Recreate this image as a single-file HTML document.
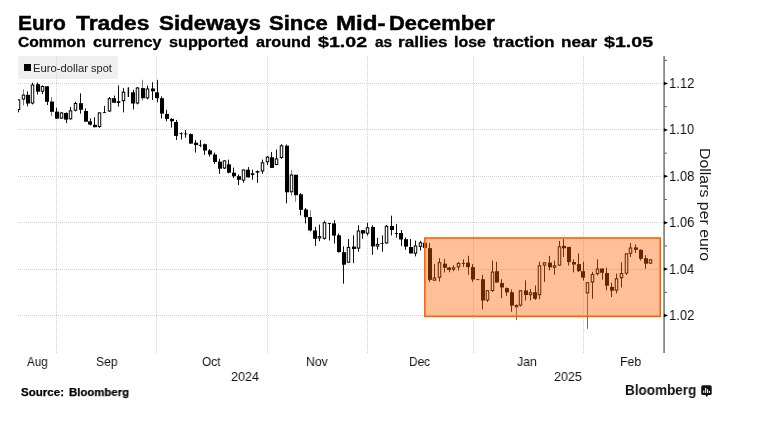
<!DOCTYPE html>
<html><head><meta charset="utf-8"><title>Euro Trades Sideways Since Mid-December</title>
<style>
html,body{margin:0;padding:0;background:#fff;}
body{width:758px;height:421px;position:relative;overflow:hidden;font-family:"Liberation Sans",sans-serif;color:#000;}
.t{position:absolute;white-space:nowrap;line-height:1;transform-origin:0 0;display:block;will-change:transform;}
#legend{left:18px;top:56px;width:99.5px;height:22.5px;background:#efefef;border-radius:2px;position:absolute;}
#legsq{position:absolute;left:24px;top:64px;width:7.4px;height:7.2px;background:#000;}
svg{position:absolute;left:0;top:0;}
h1,h2,div{margin:0;padding:0;font-size:inherit;font-weight:inherit;}
.g line{stroke:#d2d2d2;stroke-width:1;stroke-dasharray:1 1;}
.c line{stroke:#111;stroke-width:1;}
.c .f{fill:#000;}
.c .h{fill:#fff;stroke:#000;stroke-width:1;}
</style></head><body>
<div id="legend"></div>
<svg width="758" height="421" viewBox="0 0 758 421">
<defs><clipPath id="cp"><rect x="18" y="50" width="646" height="305"/></clipPath></defs>
<g class="g"><line x1="18" y1="83.5" x2="662" y2="83.5"/><line x1="18" y1="129.5" x2="662" y2="129.5"/><line x1="18" y1="176.5" x2="662" y2="176.5"/><line x1="18" y1="222.5" x2="662" y2="222.5"/><line x1="18" y1="269.5" x2="662" y2="269.5"/><line x1="18" y1="315.5" x2="662" y2="315.5"/><line x1="56.5" y1="56" x2="56.5" y2="354"/><line x1="156.5" y1="56" x2="156.5" y2="354"/><line x1="267.5" y1="56" x2="267.5" y2="354"/><line x1="367.5" y1="56" x2="367.5" y2="354"/><line x1="473.5" y1="56" x2="473.5" y2="354"/><line x1="583.5" y1="56" x2="583.5" y2="354"/></g>
<g class="c" clip-path="url(#cp)">
<line x1="18.5" y1="99.4" x2="18.5" y2="112.4"/>
<rect class="h" x="17.25" y="99.9" width="2.5" height="9.6"/>
<line x1="23.5" y1="89.3" x2="23.5" y2="105.5" style="stroke:#777"/>
<rect class="h" x="22.25" y="95.1" width="2.5" height="4.0"/>
<line x1="27.5" y1="91.3" x2="27.5" y2="106.3"/>
<rect class="f" x="26" y="94.9" width="4.0" height="8.6"/>
<line x1="32.5" y1="82.7" x2="32.5" y2="104.4"/>
<rect class="h" x="31.25" y="85.0" width="2.5" height="18.0"/>
<line x1="37.5" y1="82.5" x2="37.5" y2="94.6"/>
<rect class="f" x="36" y="84.2" width="4.0" height="7.5"/>
<line x1="42.5" y1="85.4" x2="42.5" y2="94.0"/>
<rect class="h" x="41.25" y="86.5" width="2.5" height="4.7"/>
<line x1="47.5" y1="86.3" x2="47.5" y2="105.0"/>
<rect class="f" x="45" y="86.3" width="4.0" height="15.5"/>
<line x1="51.5" y1="97.0" x2="51.5" y2="116.0" style="stroke:#777"/>
<rect class="f" x="50" y="101.5" width="4.0" height="10.3"/>
<line x1="56.5" y1="107.7" x2="56.5" y2="119.0"/>
<rect class="f" x="55" y="111.6" width="4.0" height="7.0"/>
<line x1="61.5" y1="112.4" x2="61.5" y2="118.6"/>
<rect class="h" x="60.25" y="112.9" width="2.5" height="5.2"/>
<line x1="66.5" y1="112.4" x2="66.5" y2="123.1"/>
<rect class="f" x="64" y="113.0" width="4.0" height="6.6"/>
<line x1="70.5" y1="107.0" x2="70.5" y2="119.6"/>
<rect class="h" x="69.25" y="110.8" width="2.5" height="8.0"/>
<line x1="75.5" y1="101.7" x2="75.5" y2="111.5"/>
<rect class="h" x="74.25" y="103.5" width="2.5" height="6.7"/>
<line x1="80.5" y1="93.4" x2="80.5" y2="113.6"/>
<rect class="f" x="79" y="103.2" width="4.0" height="6.6"/>
<line x1="85.5" y1="108.3" x2="85.5" y2="121.7"/>
<rect class="f" x="84" y="111.0" width="4.0" height="10.7"/>
<line x1="90.5" y1="118.4" x2="90.5" y2="125.5"/>
<rect class="f" x="88" y="121.3" width="4.0" height="3.3"/>
<line x1="94.5" y1="117.2" x2="94.5" y2="127.3"/>
<rect class="f" x="93" y="124.8" width="4.0" height="2.4"/>
<line x1="99.5" y1="112.4" x2="99.5" y2="127.9"/>
<rect class="h" x="98.25" y="112.9" width="2.5" height="13.6"/>
<line x1="104.5" y1="105.9" x2="104.5" y2="112.7"/>
<rect class="f" x="102.85" y="112.2" width="3.2" height="0.9"/>
<line x1="109.5" y1="97.0" x2="109.5" y2="111.8"/>
<rect class="h" x="108.25" y="98.7" width="2.5" height="12.3"/>
<line x1="114.5" y1="95.6" x2="114.5" y2="103.0"/>
<rect class="f" x="112" y="98.2" width="4.0" height="4.5"/>
<line x1="118.5" y1="85.4" x2="118.5" y2="106.5"/>
<rect class="h" x="117.25" y="101.7" width="2.5" height="0.8"/>
<line x1="123.5" y1="88.1" x2="123.5" y2="112.4"/>
<rect class="h" x="122.25" y="92.2" width="2.5" height="8.5"/>
<line x1="128.5" y1="87.5" x2="128.5" y2="97.0"/>
<rect class="f" x="127.68" y="87.5" width="1.4" height="9.5"/>
<line x1="133.5" y1="89.9" x2="133.5" y2="109.5"/>
<rect class="f" x="131" y="92.3" width="4.0" height="11.2"/>
<line x1="137.5" y1="87.0" x2="137.5" y2="104.4"/>
<rect class="h" x="136.25" y="88.0" width="2.5" height="15.0"/>
<line x1="142.5" y1="79.8" x2="142.5" y2="100.6" style="stroke:#777"/>
<rect class="f" x="141" y="88.1" width="4.0" height="10.1"/>
<line x1="147.5" y1="85.7" x2="147.5" y2="99.4"/>
<rect class="h" x="146.25" y="89.0" width="2.5" height="8.9"/>
<line x1="152.5" y1="82.2" x2="152.5" y2="100.0"/>
<rect class="f" x="151" y="88.5" width="4.0" height="2.8"/>
<line x1="157.5" y1="79.8" x2="157.5" y2="102.3"/>
<rect class="f" x="155" y="92.3" width="4.0" height="5.9"/>
<line x1="161.5" y1="96.4" x2="161.5" y2="118.4"/>
<rect class="f" x="160" y="98.2" width="4.0" height="15.4"/>
<line x1="166.5" y1="109.8" x2="166.5" y2="121.3"/>
<rect class="f" x="165" y="113.9" width="4.0" height="5.0"/>
<line x1="171.5" y1="118.1" x2="171.5" y2="127.6"/>
<rect class="f" x="170" y="118.9" width="4.0" height="2.4"/>
<line x1="176.5" y1="119.9" x2="176.5" y2="140.0"/>
<rect class="f" x="174" y="122.0" width="4.0" height="13.9"/>
<line x1="181.5" y1="132.3" x2="181.5" y2="139.5"/>
<rect class="f" x="179.42" y="133.3" width="3.2" height="0.9"/>
<line x1="185.5" y1="130.0" x2="185.5" y2="137.7"/>
<rect class="f" x="184.21" y="133.5" width="3.2" height="0.9"/>
<line x1="190.5" y1="133.5" x2="190.5" y2="143.6"/>
<rect class="f" x="189" y="134.1" width="4.0" height="9.5"/>
<line x1="195.5" y1="140.0" x2="195.5" y2="152.5"/>
<rect class="f" x="194" y="142.7" width="4.0" height="2.4"/>
<line x1="200.5" y1="140.0" x2="200.5" y2="147.2"/>
<rect class="f" x="198.57" y="144.8" width="3.2" height="1.0"/>
<line x1="204.5" y1="143.6" x2="204.5" y2="154.9"/>
<rect class="f" x="203" y="144.2" width="4.0" height="6.3"/>
<line x1="209.5" y1="149.0" x2="209.5" y2="156.6"/>
<rect class="f" x="208" y="150.4" width="4.0" height="4.1"/>
<line x1="214.5" y1="152.5" x2="214.5" y2="163.8"/>
<rect class="f" x="213" y="154.5" width="4.0" height="7.5"/>
<line x1="219.5" y1="158.8" x2="219.5" y2="173.8"/>
<rect class="f" x="218" y="161.6" width="4.0" height="7.1"/>
<line x1="224.5" y1="160.4" x2="224.5" y2="169.0"/>
<rect class="h" x="223.25" y="160.9" width="2.5" height="7.1"/>
<line x1="228.5" y1="159.6" x2="228.5" y2="173.3"/>
<rect class="f" x="227" y="164.3" width="4.0" height="8.4"/>
<line x1="233.5" y1="167.6" x2="233.5" y2="178.0"/>
<rect class="f" x="232" y="172.7" width="4.0" height="3.5"/>
<line x1="238.5" y1="174.4" x2="238.5" y2="185.1"/>
<rect class="f" x="237" y="176.2" width="4.0" height="3.6"/>
<line x1="243.5" y1="169.5" x2="243.5" y2="182.8"/>
<rect class="h" x="242.25" y="170.0" width="2.5" height="10.1"/>
<line x1="248.5" y1="167.1" x2="248.5" y2="177.4"/>
<rect class="f" x="246" y="169.7" width="4.0" height="7.7"/>
<line x1="252.5" y1="169.7" x2="252.5" y2="179.8"/>
<rect class="h" x="251.25" y="173.8" width="2.5" height="0.7"/>
<line x1="257.5" y1="170.3" x2="257.5" y2="182.8"/>
<rect class="h" x="256.25" y="171.6" width="2.5" height="0.6"/>
<line x1="262.5" y1="159.6" x2="262.5" y2="173.8"/>
<rect class="h" x="261.25" y="162.8" width="2.5" height="8.2"/>
<line x1="267.5" y1="156.0" x2="267.5" y2="165.0"/>
<rect class="h" x="266.25" y="157.1" width="2.5" height="4.7"/>
<line x1="271.5" y1="151.9" x2="271.5" y2="167.9"/>
<rect class="f" x="270" y="157.2" width="4.0" height="10.7"/>
<line x1="276.5" y1="149.5" x2="276.5" y2="165.2"/>
<rect class="h" x="275.25" y="158.9" width="2.5" height="5.6"/>
<line x1="281.5" y1="144.2" x2="281.5" y2="158.8"/>
<rect class="h" x="280.25" y="145.8" width="2.5" height="11.7"/>
<line x1="286.5" y1="144.5" x2="286.5" y2="203.3"/>
<rect class="f" x="285" y="145.7" width="4.0" height="46.6"/>
<line x1="291.5" y1="170.0" x2="291.5" y2="195.5" style="stroke:#777"/>
<rect class="h" x="290.25" y="175.0" width="2.5" height="16.8"/>
<line x1="295.5" y1="174.8" x2="295.5" y2="201.8" style="stroke:#888"/>
<rect class="f" x="294" y="174.8" width="4.0" height="20.4"/>
<line x1="300.5" y1="193.2" x2="300.5" y2="215.4"/>
<rect class="f" x="299" y="194.3" width="4.0" height="15.5"/>
<line x1="305.5" y1="208.0" x2="305.5" y2="223.4"/>
<rect class="f" x="304" y="209.5" width="4.0" height="7.7"/>
<line x1="310.5" y1="210.3" x2="310.5" y2="232.3" style="stroke:#888"/>
<rect class="f" x="308" y="217.1" width="4.0" height="13.4"/>
<line x1="315.5" y1="227.0" x2="315.5" y2="246.0"/>
<rect class="f" x="313" y="230.5" width="4.0" height="8.3"/>
<line x1="319.5" y1="224.6" x2="319.5" y2="241.2"/>
<rect class="h" x="318.25" y="236.6" width="2.5" height="1.4"/>
<line x1="324.5" y1="220.7" x2="324.5" y2="239.7"/>
<rect class="h" x="323.25" y="222.7" width="2.5" height="15.6"/>
<line x1="329.5" y1="223.0" x2="329.5" y2="240.4"/>
<rect class="f" x="327.79" y="223.0" width="3.2" height="0.9"/>
<line x1="334.5" y1="220.2" x2="334.5" y2="243.6"/>
<rect class="f" x="332" y="223.4" width="4.0" height="12.2"/>
<line x1="338.5" y1="233.5" x2="338.5" y2="252.5"/>
<rect class="f" x="337" y="235.3" width="4.0" height="16.8"/>
<line x1="343.5" y1="246.3" x2="343.5" y2="283.7"/>
<rect class="f" x="342" y="252.2" width="4.0" height="12.5"/>
<line x1="348.5" y1="239.0" x2="348.5" y2="262.7"/>
<rect class="h" x="347.25" y="247.4" width="2.5" height="14.8"/>
<line x1="353.5" y1="235.3" x2="353.5" y2="263.2"/>
<rect class="f" x="352" y="246.6" width="4.0" height="2.4"/>
<line x1="358.5" y1="225.4" x2="358.5" y2="251.8"/>
<rect class="h" x="357.25" y="231.0" width="2.5" height="17.1"/>
<line x1="362.5" y1="230.0" x2="362.5" y2="238.8"/>
<rect class="f" x="361" y="230.2" width="4.0" height="3.3"/>
<line x1="367.5" y1="222.8" x2="367.5" y2="235.6"/>
<rect class="h" x="366.25" y="227.8" width="2.5" height="5.4"/>
<line x1="372.5" y1="225.2" x2="372.5" y2="254.8"/>
<rect class="f" x="371" y="227.0" width="4.0" height="19.4"/>
<line x1="377.5" y1="237.7" x2="377.5" y2="249.7"/>
<rect class="h" x="376.25" y="244.4" width="2.5" height="1.7"/>
<line x1="382.5" y1="235.3" x2="382.5" y2="251.8"/>
<rect class="f" x="380.44" y="243.1" width="3.2" height="0.9"/>
<line x1="386.5" y1="224.9" x2="386.5" y2="243.6"/>
<rect class="h" x="385.25" y="226.3" width="2.5" height="16.6"/>
<line x1="391.5" y1="215.7" x2="391.5" y2="235.5"/>
<rect class="f" x="390" y="226.0" width="4.0" height="4.0"/>
<line x1="396.5" y1="224.0" x2="396.5" y2="237.7"/>
<rect class="f" x="394.79" y="233.0" width="3.2" height="0.9"/>
<line x1="401.5" y1="230.0" x2="401.5" y2="246.1"/>
<rect class="f" x="399" y="233.0" width="4.0" height="6.5"/>
<line x1="405.5" y1="237.5" x2="405.5" y2="249.8"/>
<rect class="f" x="404" y="239.2" width="4.0" height="7.4"/>
<line x1="410.5" y1="239.1" x2="410.5" y2="253.4"/>
<rect class="f" x="409" y="247.0" width="4.0" height="6.4"/>
<line x1="415.5" y1="240.6" x2="415.5" y2="256.4"/>
<rect class="h" x="414.25" y="246.0" width="2.5" height="7.2"/>
<line x1="420.5" y1="240.8" x2="420.5" y2="250.5"/>
<rect class="h" x="419.25" y="242.8" width="2.5" height="3.5"/>
<line x1="425.5" y1="242.8" x2="425.5" y2="247.9"/>
<rect class="f" x="423" y="242.8" width="4.0" height="5.1"/>
<line x1="429.5" y1="243.1" x2="429.5" y2="281.9"/>
<rect class="f" x="428" y="248.1" width="4.0" height="31.8"/>
<line x1="434.5" y1="264.1" x2="434.5" y2="280.7"/>
<rect class="h" x="433.25" y="278.0" width="2.5" height="2.2"/>
<line x1="439.5" y1="258.2" x2="439.5" y2="281.6"/>
<rect class="h" x="438.25" y="262.6" width="2.5" height="14.7"/>
<line x1="444.5" y1="258.8" x2="444.5" y2="272.4"/>
<rect class="f" x="443" y="263.7" width="4.0" height="4.0"/>
<line x1="449.5" y1="266.8" x2="449.5" y2="272.4"/>
<rect class="f" x="447" y="267.5" width="4.0" height="2.4"/>
<line x1="453.5" y1="265.3" x2="453.5" y2="271.2"/>
<rect class="h" x="452.25" y="267.8" width="2.5" height="1.4"/>
<line x1="458.5" y1="262.1" x2="458.5" y2="270.4"/>
<rect class="h" x="457.25" y="263.4" width="2.5" height="3.4"/>
<line x1="463.5" y1="259.3" x2="463.5" y2="267.1"/>
<rect class="f" x="461.80" y="263.0" width="3.2" height="0.9"/>
<line x1="468.5" y1="255.8" x2="468.5" y2="274.8"/>
<rect class="f" x="466" y="262.6" width="4.0" height="4.5"/>
<line x1="472.5" y1="264.1" x2="472.5" y2="281.9"/>
<rect class="f" x="471" y="267.1" width="4.0" height="12.4"/>
<line x1="477.5" y1="279.2" x2="477.5" y2="279.9"/>
<rect class="f" x="476.16" y="279.2" width="3.2" height="0.9"/>
<line x1="482.5" y1="274.8" x2="482.5" y2="309.4"/>
<rect class="f" x="481" y="279.2" width="4.0" height="21.3"/>
<line x1="487.5" y1="290.2" x2="487.5" y2="302.0"/>
<rect class="h" x="486.25" y="290.7" width="2.5" height="9.3"/>
<line x1="492.5" y1="260.5" x2="492.5" y2="291.9"/>
<rect class="h" x="491.25" y="272.1" width="2.5" height="18.4"/>
<line x1="496.5" y1="261.7" x2="496.5" y2="282.5"/>
<rect class="f" x="495" y="271.2" width="4.0" height="11.3"/>
<line x1="501.5" y1="279.2" x2="501.5" y2="298.2"/>
<rect class="f" x="500" y="283.1" width="4.0" height="4.4"/>
<line x1="506.5" y1="287.5" x2="506.5" y2="295.8"/>
<rect class="f" x="505" y="288.1" width="4.0" height="4.3"/>
<line x1="511.5" y1="289.5" x2="511.5" y2="311.8"/>
<rect class="f" x="510" y="292.2" width="4.0" height="13.4"/>
<line x1="516.5" y1="304.1" x2="516.5" y2="320.1" style="stroke:#777"/>
<rect class="h" x="515.25" y="305.4" width="2.5" height="1.4"/>
<line x1="520.5" y1="290.2" x2="520.5" y2="306.5"/>
<rect class="h" x="519.25" y="290.7" width="2.5" height="14.4"/>
<line x1="525.5" y1="280.3" x2="525.5" y2="300.5"/>
<rect class="f" x="524" y="290.4" width="4.0" height="4.6"/>
<line x1="530.5" y1="289.0" x2="530.5" y2="300.5"/>
<rect class="h" x="529.25" y="292.7" width="2.5" height="2.0"/>
<line x1="535.5" y1="285.5" x2="535.5" y2="299.9"/>
<rect class="f" x="533" y="292.2" width="4.0" height="6.6"/>
<line x1="539.5" y1="261.7" x2="539.5" y2="299.3"/>
<rect class="h" x="538.25" y="265.8" width="2.5" height="28.9"/>
<line x1="544.5" y1="262.3" x2="544.5" y2="281.9"/>
<rect class="h" x="543.25" y="262.8" width="2.5" height="2.3"/>
<line x1="549.5" y1="255.8" x2="549.5" y2="270.4"/>
<rect class="f" x="548" y="262.6" width="4.0" height="4.7"/>
<line x1="554.5" y1="260.5" x2="554.5" y2="274.8"/>
<rect class="h" x="553.25" y="265.8" width="2.5" height="1.4"/>
<line x1="559.5" y1="240.9" x2="559.5" y2="265.6"/>
<rect class="h" x="558.25" y="246.8" width="2.5" height="18.3"/>
<line x1="563.5" y1="239.2" x2="563.5" y2="257.0"/>
<rect class="f" x="562" y="245.9" width="4.0" height="2.4"/>
<line x1="568.5" y1="246.9" x2="568.5" y2="265.6"/>
<rect class="f" x="567" y="246.9" width="4.0" height="15.2"/>
<line x1="573.5" y1="259.3" x2="573.5" y2="272.4"/>
<rect class="f" x="572" y="262.1" width="4.0" height="2.4"/>
<line x1="578.5" y1="253.4" x2="578.5" y2="271.8"/>
<rect class="f" x="577" y="264.1" width="4.0" height="7.1"/>
<line x1="583.5" y1="261.7" x2="583.5" y2="280.5"/>
<rect class="f" x="581" y="271.2" width="4.0" height="6.4"/>
<line x1="587.5" y1="282.2" x2="587.5" y2="328.8" style="stroke:#6e6e6e"/>
<rect class="h" x="586.25" y="282.7" width="2.5" height="10.2"/>
<line x1="592.5" y1="271.8" x2="592.5" y2="298.8"/>
<rect class="h" x="591.25" y="274.5" width="2.5" height="7.5"/>
<line x1="597.5" y1="259.3" x2="597.5" y2="275.4"/>
<rect class="h" x="596.25" y="269.0" width="2.5" height="4.7"/>
<line x1="602.5" y1="268.5" x2="602.5" y2="279.6"/>
<rect class="f" x="600" y="268.5" width="4.0" height="4.3"/>
<line x1="606.5" y1="267.7" x2="606.5" y2="290.4"/>
<rect class="f" x="605" y="273.0" width="4.0" height="12.7"/>
<line x1="611.5" y1="282.7" x2="611.5" y2="297.0"/>
<rect class="f" x="610" y="286.9" width="4.0" height="3.8"/>
<line x1="616.5" y1="273.6" x2="616.5" y2="293.4"/>
<rect class="h" x="615.25" y="278.8" width="2.5" height="11.4"/>
<line x1="621.5" y1="262.3" x2="621.5" y2="287.5"/>
<rect class="h" x="620.25" y="273.5" width="2.5" height="4.2"/>
<line x1="626.5" y1="253.4" x2="626.5" y2="274.8"/>
<rect class="h" x="625.25" y="253.9" width="2.5" height="19.2"/>
<line x1="630.5" y1="243.1" x2="630.5" y2="257.0"/>
<rect class="h" x="629.25" y="248.0" width="2.5" height="5.3"/>
<line x1="635.5" y1="244.5" x2="635.5" y2="252.8"/>
<rect class="f" x="634" y="247.4" width="4.0" height="2.4"/>
<line x1="640.5" y1="249.3" x2="640.5" y2="260.5"/>
<rect class="f" x="639" y="249.8" width="4.0" height="9.0"/>
<line x1="645.5" y1="255.2" x2="645.5" y2="268.8"/>
<rect class="f" x="644" y="258.2" width="4.0" height="5.5"/>
<line x1="650.5" y1="259.3" x2="650.5" y2="263.7"/>
<rect class="h" x="649.25" y="259.8" width="2.5" height="3.4"/>
</g>
<rect x="424.85" y="238" width="235.4" height="78.4" fill="rgba(255,98,0,0.40)" stroke="#ff6200" stroke-width="1.6"/>
<rect x="663.2" y="56" width="1.8" height="297" fill="#888"/>
<rect x="664.6" y="59.9" width="2.3" height="0.8" fill="#333"/><path d="M663.9 81.8 L668.1 83.5 L663.9 85.2 Z" fill="#000"/><rect x="664.6" y="106.3" width="2.3" height="0.8" fill="#333"/><path d="M663.9 128.2 L668.1 129.9 L663.9 131.6 Z" fill="#000"/><rect x="664.6" y="152.7" width="2.3" height="0.8" fill="#333"/><path d="M663.9 174.6 L668.1 176.3 L663.9 178.0 Z" fill="#000"/><rect x="664.6" y="199.1" width="2.3" height="0.8" fill="#333"/><path d="M663.9 221.0 L668.1 222.7 L663.9 224.4 Z" fill="#000"/><rect x="664.6" y="245.5" width="2.3" height="0.8" fill="#333"/><path d="M663.9 267.4 L668.1 269.1 L663.9 270.8 Z" fill="#000"/><rect x="664.6" y="291.9" width="2.3" height="0.8" fill="#333"/><path d="M663.9 313.8 L668.1 315.5 L663.9 317.2 Z" fill="#000"/>
<g transform="translate(701.2,385.3)"><rect x="0" y="0" width="10.5" height="9.8" rx="1.7" fill="#111"/><path d="M4.0 9.5 L7.0 9.5 L5.5 11.6 Z" fill="#111"/><rect x="2.0" y="5.2" width="1.1" height="2.4" fill="#fff"/><rect x="3.9" y="2.6" width="1.1" height="5" fill="#fff"/><rect x="5.8" y="3.9" width="1.1" height="3.7" fill="#fff"/><rect x="7.7" y="5.6" width="1.1" height="2" fill="#fff"/></g>
</svg>
<div id="legsq"></div>
<h1><span class="t" style="left:18.15px;top:12.60px;font-size:20px;font-weight:bold;color:#000;-webkit-text-stroke:0.45px #000;transform:scaleX(1.0500)">Euro</span> <span class="t" style="left:76.10px;top:12.60px;font-size:20px;font-weight:bold;color:#000;-webkit-text-stroke:0.45px #000;transform:scaleX(1.1375)">Trades</span> <span class="t" style="left:158.82px;top:12.60px;font-size:20px;font-weight:bold;color:#000;-webkit-text-stroke:0.45px #000;transform:scaleX(1.1169)">Sideways</span> <span class="t" style="left:268.82px;top:12.60px;font-size:20px;font-weight:bold;color:#000;-webkit-text-stroke:0.45px #000;transform:scaleX(1.1033)">Since</span> <span class="t" style="left:336.49px;top:12.60px;font-size:20px;font-weight:bold;color:#000;-webkit-text-stroke:0.45px #000;transform:scaleX(1.2051)">Mid-</span><span class="t" style="left:388.71px;top:12.60px;font-size:20px;font-weight:bold;color:#000;-webkit-text-stroke:0.45px #000;transform:scaleX(1.0924)">December</span></h1>
<h2><span class="t" style="left:18.34px;top:35.25px;font-size:14px;font-weight:bold;color:#000;-webkit-text-stroke:0.3px #000;transform:scaleX(1.1160)">Common</span> <span class="t" style="left:92.67px;top:35.25px;font-size:14px;font-weight:bold;color:#000;-webkit-text-stroke:0.3px #000;transform:scaleX(1.1574)">currency</span> <span class="t" style="left:168.61px;top:35.25px;font-size:14px;font-weight:bold;color:#000;-webkit-text-stroke:0.3px #000;transform:scaleX(1.1600)">supported</span> <span class="t" style="left:255.71px;top:35.25px;font-size:14px;font-weight:bold;color:#000;-webkit-text-stroke:0.3px #000;transform:scaleX(1.1570)">around</span> <span class="t" style="left:318.30px;top:35.25px;font-size:14px;font-weight:bold;color:#000;-webkit-text-stroke:0.3px #000;transform:scaleX(1.4000)">$1.02</span> <span class="t" style="left:374.62px;top:35.25px;font-size:14px;font-weight:bold;color:#000;-webkit-text-stroke:0.3px #000;transform:scaleX(1.1000)">as</span> <span class="t" style="left:398.08px;top:35.25px;font-size:14px;font-weight:bold;color:#000;-webkit-text-stroke:0.3px #000;transform:scaleX(1.2229)">rallies</span> <span class="t" style="left:453.74px;top:35.25px;font-size:14px;font-weight:bold;color:#000;-webkit-text-stroke:0.3px #000;transform:scaleX(1.1407)">lose</span> <span class="t" style="left:492.80px;top:35.25px;font-size:14px;font-weight:bold;color:#000;-webkit-text-stroke:0.3px #000;transform:scaleX(1.1961)">traction</span> <span class="t" style="left:560.98px;top:35.25px;font-size:14px;font-weight:bold;color:#000;-webkit-text-stroke:0.3px #000;transform:scaleX(1.2209)">near</span> <span class="t" style="left:604.00px;top:35.25px;font-size:14px;font-weight:bold;color:#000;-webkit-text-stroke:0.3px #000;transform:scaleX(1.4043)">$1.05</span></h2>
<div><span class="t" style="left:32.76px;top:63.60px;font-size:10px;font-weight:normal;color:#222;transform:scaleX(1.1229)">Euro-dollar</span> <span class="t" style="left:91.22px;top:63.60px;font-size:10px;font-weight:normal;color:#222;transform:scaleX(1.1027)">spot</span></div>
<div><span class="t" style="left:669.29px;top:75.95px;font-size:14.4px;font-weight:normal;color:#111;transform:scaleX(0.9067)">1.12</span></div>
<div><span class="t" style="left:669.30px;top:121.95px;font-size:14.4px;font-weight:normal;color:#111;transform:scaleX(0.8981)">1.10</span></div>
<div><span class="t" style="left:669.29px;top:168.95px;font-size:14.4px;font-weight:normal;color:#111;transform:scaleX(0.9067)">1.08</span></div>
<div><span class="t" style="left:669.29px;top:214.95px;font-size:14.4px;font-weight:normal;color:#111;transform:scaleX(0.9067)">1.06</span></div>
<div><span class="t" style="left:669.30px;top:261.95px;font-size:14.4px;font-weight:normal;color:#111;transform:scaleX(0.8981)">1.04</span></div>
<div><span class="t" style="left:669.29px;top:307.95px;font-size:14.4px;font-weight:normal;color:#111;transform:scaleX(0.9067)">1.02</span></div>
<div><span class="t" style="left:26.70px;top:355.10px;font-size:13px;font-weight:normal;color:#111;transform:scaleX(0.8899)">Aug</span> <span class="t" style="left:96.00px;top:355.10px;font-size:13px;font-weight:normal;color:#111;transform:scaleX(0.9287)">Sep</span> <span class="t" style="left:202.01px;top:355.10px;font-size:13px;font-weight:normal;color:#111;transform:scaleX(0.9179)">Oct</span> <span class="t" style="left:305.56px;top:355.10px;font-size:13px;font-weight:normal;color:#111;transform:scaleX(0.9409)">Nov</span> <span class="t" style="left:409.19px;top:355.10px;font-size:13px;font-weight:normal;color:#111;transform:scaleX(0.9149)">Dec</span> <span class="t" style="left:517.16px;top:355.10px;font-size:13px;font-weight:normal;color:#111;transform:scaleX(0.9450)">Jan</span> <span class="t" style="left:620.36px;top:355.10px;font-size:13px;font-weight:normal;color:#111;transform:scaleX(0.9398)">Feb</span></div>
<div><span class="t" style="left:231.08px;top:369.80px;font-size:13px;font-weight:normal;color:#111;transform:scaleX(0.9658)">2024</span> <span class="t" style="left:553.58px;top:369.80px;font-size:13px;font-weight:normal;color:#111;transform:scaleX(0.9600)">2025</span></div>
<div><span class="t" style="left:21.05px;top:387.20px;font-size:11.5px;font-weight:bold;color:#000;-webkit-text-stroke:0.25px #000;transform:scaleX(1.0060)">Source:</span> <span class="t" style="left:69.36px;top:387.20px;font-size:11.5px;font-weight:bold;color:#000;-webkit-text-stroke:0.25px #000;transform:scaleX(0.9890)">Bloomberg</span></div>
<div><span class="t" style="left:625.32px;top:384.10px;font-size:13.8px;font-weight:bold;color:#111;transform:scaleX(0.9781)">Bloomberg</span></div>
<div><span class="t" style="left:712.90px;top:147.99px;font-size:15.2px;color:#1a1a1a;transform:rotate(90deg) scaleX(1.0456)">Dollars per euro</span></div>
</body></html>
